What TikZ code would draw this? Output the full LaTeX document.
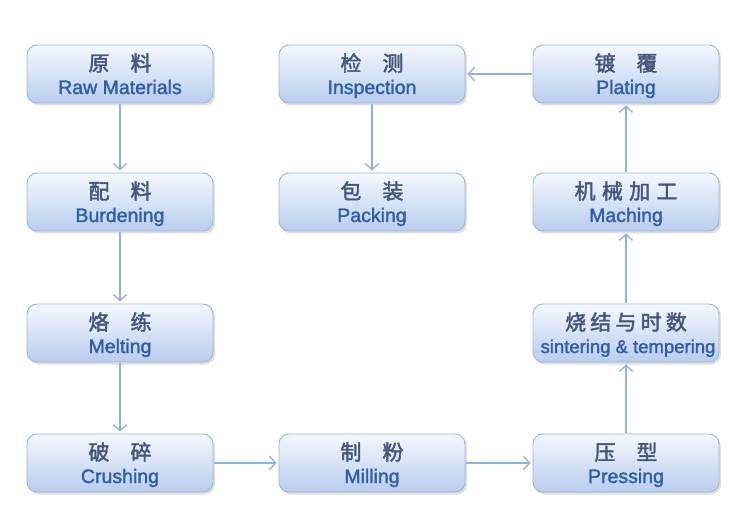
\documentclass[tikz,border=0pt]{standalone}
\usepackage{fontspec}
\setmainfont{Liberation Sans}
\newfontfamily\enf[FakeBold=1.6]{Liberation Sans}
\newfontfamily\cjkf[FakeBold=2]{Noto Sans CJK SC}
\usetikzlibrary{arrows.meta,shadows}
\definecolor{cntext}{HTML}{46557A}
\definecolor{entext}{HTML}{2F5DA8}
\definecolor{boxline}{HTML}{A3B4D2}
\definecolor{boxtop}{HTML}{F4F8FE}
\definecolor{boxbot}{HTML}{B9CDEE}
\definecolor{arr}{HTML}{8FB1E2}
\tikzset{
  pbox/.style={draw=boxline, line width=0.9pt, rounded corners=10pt,
    minimum width=186pt, minimum height=58pt, inner sep=0pt,
    top color=boxtop, bottom color=boxbot,
    drop shadow={shadow xshift=2pt, shadow yshift=-2.5pt, opacity=0.25, fill=gray}},
  cn/.style={anchor=base, inner sep=0pt, text=cntext, font=\cjkf\fontsize{21}{21}\selectfont},
  en/.style={anchor=base, inner sep=0pt, text=entext, font=\enf\fontsize{19.5}{19.5}\selectfont},
  flow/.style={draw=arr, line width=1.3pt, -{Straight Barb[length=6pt,width=13pt,line width=1.3pt]}, shorten >=2pt, shorten <=1pt}
}
\begin{document}
\begin{tikzpicture}[x=1pt,y=-1pt]
\useasboundingbox (0,0) rectangle (747,521);
\fill[white] (0,0) rectangle (747,521);
% boxes
\node[pbox] (raw) at (120,74) {};
\node[pbox] (bur) at (120,202) {};
\node[pbox] (mel) at (120,333) {};
\node[pbox] (cru) at (120,463) {};
\node[pbox] (ins) at (372,74) {};
\node[pbox] (pac) at (372,202) {};
\node[pbox] (mil) at (372,463) {};
\node[pbox] (pla) at (626,74) {};
\node[pbox] (mac) at (626,202) {};
\node[pbox] (sin) at (626,333) {};
\node[pbox] (pre) at (626,463) {};
% texts
\node[cn] (rawc) at (120,71) {原\hspace{1em}料};
\node[en] (rawe) at (120,94) {Raw Materials};
\node[cn] (burc) at (120,199) {配\hspace{1em}料};
\node[en] (bure) at (120,222) {Burdening};
\node[cn] (melc) at (120,330) {烙\hspace{1em}练};
\node[en] (mele) at (120,353) {Melting};
\node[cn] (cruc) at (120,460) {破\hspace{1em}碎};
\node[en] (crue) at (120,483) {Crushing};
\node[cn] (insc) at (372,71) {检\hspace{1em}测};
\node[en] (inse) at (372,94) {Inspection};
\node[cn] (pacc) at (372,199) {包\hspace{1em}装};
\node[en] (pace) at (372,222) {Packing};
\node[cn] (milc) at (372,460) {制\hspace{1em}粉};
\node[en] (mile) at (372,483) {Milling};
\node[cn] (plac) at (626,71) {镀\hspace{1em}覆};
\node[en] (plae) at (626,94) {Plating};
\node[cn] (macc) at (626,199) {机\hspace{0.3em}械\hspace{0.3em}加\hspace{0.3em}工};
\node[en] (mace) at (626,222) {Maching};
\node[cn] (sinc) at (626,330) {烧\hspace{0.2em}结\hspace{0.2em}与\hspace{0.2em}时\hspace{0.2em}数};
\node[en,font=\enf\fontsize{18.5}{18.5}\selectfont] (sine) at (628,353) {sintering \& tempering};
\node[cn] (prec) at (626,460) {压\hspace{1em}型};
\node[en] (pree) at (626,483) {Pressing};
% connectors
\draw[flow] (raw) -- (bur);
\draw[flow] (bur) -- (mel);
\draw[flow] (mel) -- (cru);
\draw[flow] (cru) -- (mil);
\draw[flow] (mil) -- (pre);
\draw[flow] (pre) -- (sin);
\draw[flow] (sin) -- (mac);
\draw[flow] (mac) -- (pla);
\draw[flow] (pla) -- (ins);
\draw[flow] (ins) -- (pac);
\end{tikzpicture}
\end{document}
